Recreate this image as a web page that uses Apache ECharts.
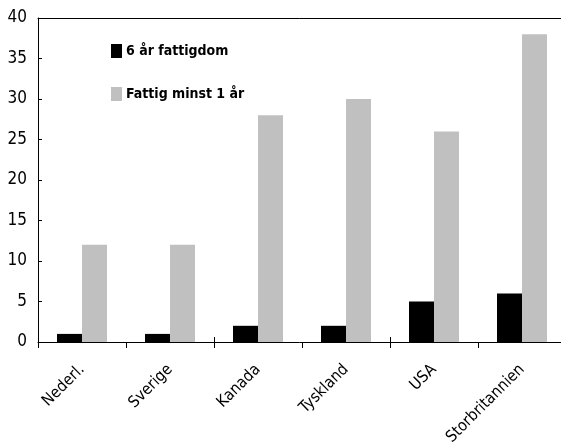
<!DOCTYPE html>
<html>
<head>
<meta charset="utf-8">
<script src="https://cdn.jsdelivr.net/npm/echarts@6/dist/echarts.min.js"></script>
<style>
  html, body { margin: 0; padding: 0; background: #fff; }
  #main { width: 561px; height: 445px; }
</style>
</head>
<body>
<div id="main"></div>
<script>
var countries = ['Nederl.', 'Sverige', 'Kanada', 'Tyskland', 'USA', 'Storbritannien'];
var sixYears = [1, 1, 2, 2, 5, 6];
var atLeastOne = [12, 12, 28, 30, 26, 38];
var seriesNames = ['6 år fattigdom', 'Fattig minst 1 år'];

// narrow font like the original, falls back if missing
var font = '"Liberation Sans Narrow", "Arial Narrow", "DejaVu Sans Condensed", sans-serif';
var chart = echarts.init(document.getElementById('main'));

var option = {
    backgroundColor: '#fff',
    animation: false,
    textStyle: { fontFamily: font },
    grid: { left: 38, right: -5, top: 18, bottom: 103, containLabel: false, outerBoundsMode: 'none' },
    legend: {
        orient: 'vertical',
        left: 106,
        top: 39,
        icon: 'rect',
        itemWidth: 11,
        itemHeight: 14,
        itemGap: 29,
        textStyle: { fontFamily: font, fontWeight: 'bold', fontSize: 14, color: '#000', padding: [0, 0, 0, -1] },
        data: seriesNames
    },
    xAxis: [{
        type: 'category',
        data: countries,
        position: 'bottom',
        axisLine: { lineStyle: { color: '#000', width: 1 } },
        axisTick: { show: true, length: 6, lineStyle: { color: '#000' } },
        axisLabel: { rotate: 45, margin: 25, fontSize: 16, color: '#000', fontFamily: font, interval: 0 }
    }, {
        type: 'category',
        data: countries,
        position: 'bottom',
        axisLine: { show: false },
        axisTick: { show: true, inside: true, length: 5, lineStyle: { color: '#000' } },
        axisLabel: { show: false }
    }, {
        type: 'category',
        data: countries,
        position: 'top',
        axisLine: { lineStyle: { color: '#000', width: 1 } },
        axisTick: { show: false },
        axisLabel: { show: false }
    }],
    yAxis: {
        type: 'value',
        min: 0,
        max: 40,
        interval: 5,
        axisLine: { show: true, lineStyle: { color: '#000', width: 1 } },
        axisTick: { show: true, inside: true, length: 4, lineStyle: { color: '#000' } },
        splitLine: { show: false },
        axisLabel: { fontSize: 17, color: '#000', margin: 11, fontFamily: font }
    },
    series: [{
        name: seriesNames[0],
        type: 'bar',
        data: sixYears,
        barWidth: 25,
        barGap: '0%',
        itemStyle: { color: '#000' }
    }, {
        name: seriesNames[1],
        type: 'bar',
        data: atLeastOne,
        barWidth: 25,
        barGap: '0%',
        itemStyle: { color: '#c0c0c0' }
    }]
};
chart.setOption(option);
</script>
</body>
</html>
